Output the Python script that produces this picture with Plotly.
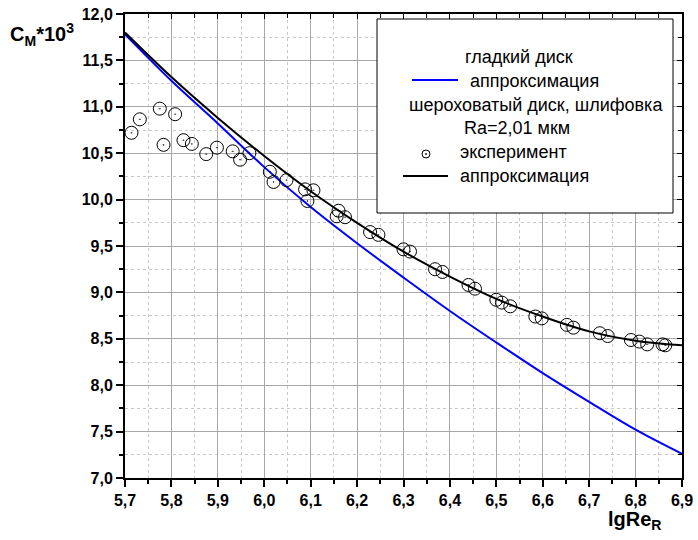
import plotly.graph_objects as go

# ---- data ----
x_fit = [5.7, 5.8, 5.9, 6.0, 6.1, 6.2, 6.3, 6.4, 6.5, 6.6, 6.7, 6.8, 6.9]
smooth_fit = [11.78, 11.28, 10.82, 10.35, 9.92, 9.53, 9.16, 8.80, 8.46, 8.13, 7.82, 7.52, 7.26]
rough_fit = [11.80, 11.32, 10.88, 10.47, 10.09, 9.75, 9.44, 9.17, 8.93, 8.74, 8.58, 8.48, 8.43]

exp_x = [5.714, 5.732, 5.775, 5.783, 5.808, 5.826, 5.844, 5.875, 5.898, 5.932, 5.948, 5.968,
         6.012, 6.020, 6.048, 6.088, 6.093, 6.106, 6.160, 6.156, 6.174, 6.228, 6.246,
         6.300, 6.314, 6.368, 6.384, 6.440, 6.454, 6.500, 6.512, 6.530, 6.584, 6.598,
         6.652, 6.666, 6.723, 6.740, 6.790, 6.808, 6.825, 6.858, 6.864]
exp_y = [10.72, 10.865, 10.98, 10.59, 10.92, 10.64, 10.60, 10.49, 10.56, 10.52, 10.43, 10.50,
         10.30, 10.19, 10.21, 10.11, 9.985, 10.10, 9.88, 9.82, 9.81, 9.65, 9.62,
         9.464, 9.44, 9.25, 9.22, 9.08, 9.04, 8.92, 8.89, 8.85, 8.74, 8.72,
         8.65, 8.62, 8.56, 8.53, 8.487, 8.47, 8.44, 8.44, 8.43]

x_range = [5.7, 6.9]
y_range = [7.0, 12.0]

# ---- layout geometry ----
W, H = 698, 540
L, R, T, B = 125, 16, 14, 62
pw, ph = W - L - R, H - T - B


def fx(p):
    return (p - L) / pw


def fy(p):
    return (H - B - p) / ph


FONT = "Arial, Liberation Sans, sans-serif"

fig = go.Figure()
fig.add_trace(go.Scatter(x=x_fit, y=smooth_fit, mode="lines",
                         line=dict(color="#0000ff", width=2, shape="spline"),
                         name="аппроксимация", showlegend=False))
fig.add_trace(go.Scatter(x=x_fit, y=rough_fit, mode="lines",
                         line=dict(color="black", width=2, shape="spline"),
                         name="аппроксимация", showlegend=False))
fig.add_trace(go.Scatter(x=exp_x, y=exp_y, mode="markers",
                         marker=dict(symbol="circle-open-dot", size=13, color="black",
                                     line=dict(width=1, color="black")),
                         name="эксперимент", showlegend=False))
# helper trace so the mirrored (top/right) tick axes are drawn
fig.add_trace(go.Scatter(x=[x_range[0]], y=[y_range[0]], xaxis="x2", yaxis="y2",
                         mode="markers", marker=dict(opacity=0), showlegend=False,
                         hoverinfo="skip"))

tickfont = dict(family=FONT, size=16, color="black", weight="bold")
common = dict(showline=True, linecolor="black", linewidth=2, mirror=True,
              ticks="outside", ticklen=7, tickwidth=1.5, tickcolor="black",
              tickformat=".1f", tickfont=tickfont, zeroline=False,
              showgrid=True, gridcolor="#a8a8a8", gridwidth=1)

fig.update_layout(
    width=W, height=H,
    margin=dict(l=L, r=R, t=T, b=B, autoexpand=False),
    paper_bgcolor="white", plot_bgcolor="white",
    separators=",.",
    showlegend=False,
    xaxis=dict(range=x_range, dtick=0.1, tick0=5.7,
               minor=dict(dtick=0.05, ticks="outside", ticklen=4, tickcolor="black",
                          showgrid=True, gridcolor="#c8c8c8", griddash="dot", gridwidth=1),
               **common),
    yaxis=dict(range=y_range, dtick=0.5, tick0=7.0,
               minor=dict(dtick=0.25, ticks="outside", ticklen=4, tickcolor="black",
                          showgrid=True, gridcolor="#c8c8c8", griddash="dot", gridwidth=1),
               **common),
    xaxis2=dict(range=x_range, overlaying="x", side="top", anchor="y", showline=False,
                dtick=0.1, tick0=5.7, ticks="inside", ticklen=5, tickcolor="black",
                showticklabels=False, showgrid=False, zeroline=False,
                minor=dict(dtick=0.05, ticks="inside", ticklen=4, tickcolor="black")),
    yaxis2=dict(range=y_range, overlaying="y", side="right", anchor="x", showline=False,
                dtick=0.5, tick0=7.0, ticks="inside", ticklen=5, tickcolor="black",
                showticklabels=False, showgrid=False, zeroline=False,
                minor=dict(dtick=0.25, ticks="inside", ticklen=4, tickcolor="black")),
)

# axis titles
fig.add_annotation(xref="paper", yref="paper", x=fx(8), y=fy(34), xanchor="left", yanchor="middle",
                   text="<b>C<sub>M</sub>*10<sup>3</sup></b>", showarrow=False,
                   font=dict(family=FONT, size=20, color="black"))
fig.add_annotation(xref="paper", yref="paper", x=fx(606), y=fy(520), xanchor="left", yanchor="middle",
                   text="<b>lgRe<sub>R</sub></b>", showarrow=False,
                   font=dict(family=FONT, size=20, color="black"))

# legend box (drawn manually to reproduce the centred headers)
shapes = [
    dict(type="rect", xref="paper", yref="paper", x0=fx(377), x1=fx(673), y0=fy(213), y1=fy(19),
         line=dict(color="black", width=1), fillcolor="white", layer="above"),
    dict(type="line", xref="paper", yref="paper", x0=fx(412), x1=fx(458), y0=fy(80), y1=fy(80),
         line=dict(color="#0000ff", width=2), layer="above"),
    dict(type="line", xref="paper", yref="paper", x0=fx(403), x1=fx(448), y0=fy(176), y1=fy(176),
         line=dict(color="black", width=2), layer="above"),
    dict(type="circle", xref="paper", yref="paper", x0=fx(422), x1=fx(430), y0=fy(158), y1=fy(150),
         line=dict(color="black", width=1), fillcolor="white", layer="above"),
    dict(type="circle", xref="paper", yref="paper", x0=fx(425.3), x1=fx(426.7), y0=fy(154.7), y1=fy(153.3),
         line=dict(color="black", width=0.5), fillcolor="black", layer="above"),
]
fig.update_layout(shapes=shapes)

leg_font = dict(family=FONT, size=18, color="black")
legend_text = [
    ("гладкий диск", 519, 57, "center"),
    ("аппроксимация", 468, 81, "left"),
    ("шероховатый диск, шлифовка", 536, 105, "center"),
    ("Ra=2,01 мкм", 517, 128, "center"),
    ("эксперимент", 458, 152, "left"),
    ("аппроксимация", 458, 176, "left"),
]
for txt, xx, yy, anc in legend_text:
    fig.add_annotation(xref="paper", yref="paper", x=fx(xx), y=fy(yy), xanchor=anc, yanchor="middle",
                       text=txt, showarrow=False, font=leg_font)

fig.write_html("out.html", config={"displayModeBar": False},
               post_script="document.body.style.margin='0px';")
